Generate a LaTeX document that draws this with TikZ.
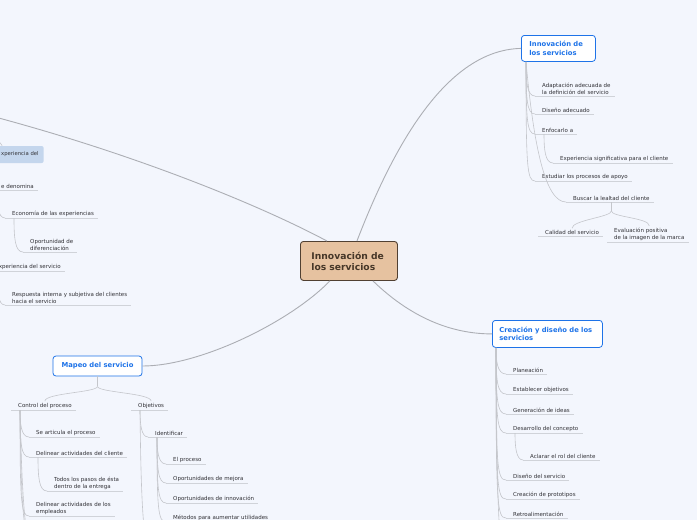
\documentclass[tikz,border=0pt]{standalone}
\usepackage{fontspec}
\setmainfont{DejaVu Sans}
\usetikzlibrary{calc}
\definecolor{bg}{RGB}{243,246,253}
\definecolor{mainfill}{RGB}{230,194,160}
\definecolor{maindraw}{RGB}{80,64,50}
\definecolor{maintext}{RGB}{70,55,40}
\definecolor{blu}{RGB}{30,115,232}
\definecolor{lnk}{RGB}{196,198,203}
\definecolor{biglnk}{RGB}{172,174,180}
\definecolor{uln}{RGB}{208,211,217}
\definecolor{txt}{RGB}{50,50,55}
\definecolor{hl}{RGB}{196,214,237}
\tikzset{
 uline/.style={draw=uln, line width=0.6pt},
 leaf/.style={anchor=south west, inner xsep=0pt, inner ysep=1.6pt,
   font=\fontsize{5.5}{7}\selectfont, text=txt, align=left,
   append after command={([xshift=-7pt]\tikzlastnode.south west) edge[uline] ([xshift=4pt]\tikzlastnode.south east)}},
 conn/.style={draw=lnk, line width=0.6pt},
 bigconn/.style={draw=biglnk, line width=0.9pt},
 blubox/.style={draw=blu, fill=white, rounded corners=3pt, line width=0.8pt, text=blu,
   font=\fontsize{6.8}{8.2}\selectfont\bfseries, align=left},
 mainbox/.style={draw=maindraw, fill=mainfill, rounded corners=3pt, line width=0.9pt, text=maintext,
   font=\fontsize{9.2}{11}\selectfont\bfseries, align=left},
}
\newcommand\mlink[2]{\draw[conn] (#1) .. controls ($(#1|-#2.south west)+(0,-14)$) and ($(#1|-#2.south west)+(1,0)$) .. ([xshift=-7pt]#2.south west);}
\begin{document}
\begin{tikzpicture}[x=1pt,y=-1pt]
\useasboundingbox (0,0) rectangle (697,520);
\fill[bg] (0,0) rectangle (697,520);
\clip (0,0) rectangle (697,520);

% main node
\node[mainbox, anchor=north west, inner xsep=11pt, text width=75pt, minimum height=39pt] (main) at (300,241) {Innovación de\\los servicios};

% top-right branch
\node[blubox, anchor=north west, inner xsep=8pt, text width=58pt, minimum height=26pt] (tr) at (521,35) {Innovación de\\los servicios};
\coordinate (trA) at ([xshift=5pt]tr.south west);
\node[leaf] (ad) at (542,96) {Adaptación adecuada de\\la definición del servicio};
\node[leaf] (dis) at (542,114) {Diseño adecuado};
\node[leaf] (enf) at (542,134) {Enfocarlo a};
\coordinate (enfS) at ([xshift=2pt]enf.south west);
\node[leaf] (exs) at (560,163) {Experiencia significativa para el cliente};
\node[leaf] (est) at (542,181) {Estudiar los procesos de apoyo};
\node[leaf] (bus) at (573,202) {Buscar la lealtad del cliente};
\node[leaf] (cal) at (545,236) {Calidad del servicio};
\node[leaf] (eva) at (614,242) {Evaluación positiva\\de la imagen de la marca};
\mlink{trA}{ad}
\mlink{trA}{dis}
\mlink{trA}{enf}
\mlink{enfS}{exs}
\mlink{trA}{est}
\draw[conn] (trA) .. controls (534,150) and (546,202) .. ([xshift=-7pt]bus.south west);
\coordinate (busJ) at ($(bus.south)+(0,9)$);
\draw[conn] (bus.south) -- (busJ);
\draw[conn] (busJ) .. controls +(0,6) and +(0,-8) .. (cal.north);
\draw[conn] (busJ) .. controls +(0,6) and +(0,-8) .. (eva.north);

% bottom-right branch
\node[blubox, anchor=north west, inner xsep=7pt, text width=96pt, minimum height=27pt] (cr) at (492,320) {Creación y diseño de los\\servicios};
\coordinate (crA) at ([xshift=4pt]cr.south west);
\node[leaf] (pla) at (513,374) {Planeación};
\node[leaf] (eob) at (513,394) {Establecer objetivos};
\node[leaf] (gen) at (513,414) {Generación de ideas};
\node[leaf] (des) at (513,433) {Desarrollo del concepto};
\coordinate (desS) at ([xshift=2pt]des.south west);
\node[leaf] (acl) at (530,460) {Aclarar el rol del cliente};
\node[leaf] (dse) at (513,480) {Diseño del servicio};
\node[leaf] (cpr) at (513,499) {Creación de prototipos};
\node[leaf] (ret) at (513,518) {Retroalimentación};
\mlink{crA}{pla}
\mlink{crA}{eob}
\mlink{crA}{gen}
\mlink{crA}{des}
\mlink{desS}{acl}
\mlink{crA}{dse}
\mlink{crA}{cpr}
\mlink{crA}{ret}
\coordinate (crMore) at (505,560);
\draw[conn] (crA) .. controls (497,520) and (499,545) .. (crMore);

% bottom-left branch
\node[blubox, anchor=center, align=center, minimum width=89pt, minimum height=20pt] (mp) at (97.5,366) {Mapeo del servicio};
\coordinate (mpJ) at ($(mp.south)+(0,10)$);
\node[leaf] (ctl) at (18,410) {Control del proceso};
\node[leaf] (obj) at (138,410) {Objetivos};
\draw[conn] (mp.south) -- (mpJ);
\draw[conn] (mpJ) .. controls +(0,6) and +(0,-8) .. (ctl.north);
\draw[conn] (mpJ) .. controls +(0,6) and +(0,-8) .. (obj.north);
\coordinate (ctlS) at ([xshift=2pt]ctl.south west);
\coordinate (objS) at ([xshift=2pt]obj.south west);
\node[leaf] (sea) at (36,437) {Se articula el proceso};
\node[leaf] (dac) at (36,457) {Delinear actividades del cliente};
\coordinate (dacS) at ([xshift=2pt]dac.south west);
\node[leaf] (tod) at (54,491) {Todos los pasos de ésta\\dentro de la entrega};
\node[leaf] (dae) at (36,516) {Delinear actividades de los\\empleados};
\mlink{ctlS}{sea}
\mlink{ctlS}{dac}
\mlink{dacS}{tod}
\mlink{ctlS}{dae}
\coordinate (ctlMore1) at (30,545);
\coordinate (ctlMore2) at (34,565);
\draw[conn] (ctlS) .. controls (21,500) and (23,530) .. (ctlMore1);
\draw[conn] (ctlS) .. controls (22,500) and (25,540) .. (ctlMore2);
\node[leaf] (ide) at (155,437) {Identificar};
\coordinate (ideS) at ([xshift=2pt]ide.south west);
\node[leaf] (epr) at (173,464) {El proceso};
\node[leaf] (opm) at (173,483) {Oportunidades de mejora};
\node[leaf] (opi) at (173,503) {Oportunidades de innovación};
\node[leaf] (met) at (173,522) {Métodos para aumentar utilidades};
\mlink{objS}{ide}
\mlink{ideS}{epr}
\mlink{ideS}{opm}
\mlink{ideS}{opi}
\mlink{ideS}{met}
\coordinate (objMore) at (150,560);
\draw[conn] (objS) .. controls (141,500) and (143,540) .. (objMore);

% top-left branch (partly outside the picture)
\coordinate (farL) at (-40,108);
\node[anchor=west, fill=hl, rounded corners=2pt, inner xsep=5pt, minimum height=17pt,
  font=\fontsize{5.3}{7}\selectfont, text=txt] (hlb) at (-6,154.5) {\hspace*{2pt}xperiencia del};
\node[leaf, anchor=south west] (sed) at (1,190) {e denomina};
\node[leaf] (eco) at (12,218) {Economía de las experiencias};
\coordinate (ecoS) at ([xshift=2pt]eco.south west);
\node[leaf] (opd) at (30,252) {Oportunidad de\\diferenciación};
\node[leaf, anchor=south east] (exv) at (61,271) {xperiencia del servicio};
\node[leaf] (res) at (12,305) {Respuesta interna y subjetiva del clientes\\hacia el servicio};
\coordinate (lA) at (-3,195);
\coordinate (lB) at (-3,272);
\coordinate (lC) at (-6,135);
\mlink{ecoS}{opd}
\mlink{lA}{eco}
\mlink{lB}{res}
\draw[conn] (lC) .. controls (-1,142) and (3,146) .. ([xshift=8pt]hlb.north west);

% main connectors
\draw[bigconn] ($(main.north)+(8,0)$) .. controls (392,150) and (445,50) .. (tr.west);
\draw[bigconn] ($(main.south)+(24,0)$) .. controls (405,312) and (445,334) .. (cr.west);
\draw[bigconn] ($(main.south)+(-19,0)$) .. controls (290,322) and (200,366) .. (mp.east);
\draw[bigconn] ($(main.north)+(-22,0)$) .. controls (250,200) and (110,145) .. (farL);
\end{tikzpicture}
\end{document}
